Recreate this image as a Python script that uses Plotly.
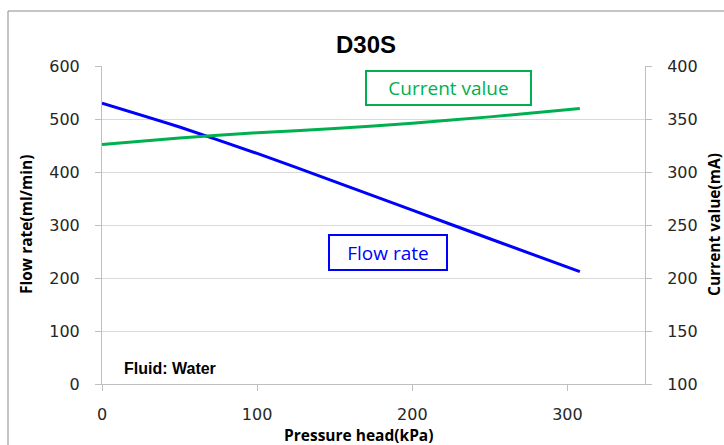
import plotly.graph_objects as go

# Data
pressure_kpa = [0, 50, 100, 150, 200, 250, 308]
flow_rate = [530, 485, 435, 382, 328, 274, 212]          # ml/min, left axis
current_ma = [326, 332, 337, 341, 346, 352, 360]         # mA, right axis

x_ticks = [0, 100, 200, 300]
y_ticks = [0, 100, 200, 300, 400, 500, 600]
y2_ticks = [100, 150, 200, 250, 300, 350, 400]

GREEN = "#00B050"
BLUE = "#0000FF"
GRID = "#d9d9d9"
AXIS = "#bfbfbf"
TICKFONT = dict(family="DejaVu Sans, sans-serif", size=16, color="#262626")
TITLEFONT = dict(family="Open Sans, Noto Sans, sans-serif", size=15.5, color="#000000", weight="bold")

fig = go.Figure()
fig.add_trace(go.Scatter(x=pressure_kpa, y=flow_rate, mode="lines",
                         line=dict(color=BLUE, width=3, shape="spline", smoothing=0.5),
                         name="Flow rate", yaxis="y"))
fig.add_trace(go.Scatter(x=pressure_kpa, y=current_ma, mode="lines",
                         line=dict(color=GREEN, width=3, shape="spline", smoothing=0.5),
                         name="Current value", yaxis="y2"))

W, H = 724, 445
# page pixels of plot area: x 102..645, y 66..384
PX0, PX1, PY0, PY1 = 102, 645, 66, 384
L, T, R, B = PX0, PY0, W - PX1, H - PY1
pw, ph = PX1 - PX0, PY1 - PY0

def px(xp):
    return (xp - PX0) / pw

def py(yp):
    return (PY1 - yp) / ph

fig.update_layout(
    width=W, height=H,
    margin=dict(l=L, r=R, t=T, b=B, pad=0),
    paper_bgcolor="white", plot_bgcolor="white",
    showlegend=False,
    xaxis=dict(range=[0, 350], tickvals=x_ticks, showgrid=False, zeroline=False,
               showline=True, linecolor=AXIS, linewidth=1,
               ticks="outside", ticklen=6, tickcolor=AXIS, tickfont=TICKFONT,
               ticklabelstandoff=10),
    yaxis=dict(range=[0, 600], tickvals=y_ticks, showgrid=True, gridcolor=GRID, gridwidth=1,
               zeroline=False, showline=True, linecolor=AXIS, linewidth=1,
               ticks="outside", ticklen=6, tickcolor=AXIS, tickfont=TICKFONT,
               ticklabelstandoff=12),
    yaxis2=dict(range=[100, 400], tickvals=y2_ticks, overlaying="y", side="right",
                showgrid=False, zeroline=False, showline=True, linecolor=AXIS, linewidth=1,
                ticks="outside", ticklen=6, tickcolor=AXIS, tickfont=TICKFONT,
                ticklabelstandoff=12),
)

# outer chart border
fig.add_shape(type="rect", xref="paper", yref="paper",
              x0=px(8), x1=px(760), y0=py(480), y1=py(11),
              line=dict(color="#8c8c8c", width=1), fillcolor="rgba(0,0,0,0)", layer="below")

annos = [
    dict(text="D30S", x=px(366), y=py(45),
         font=dict(family="Liberation Sans, Arial, sans-serif", size=24, color="#000", weight="bold")),
    dict(text="Flow rate(ml/min)", x=px(26), y=0.5, textangle=-90, font=TITLEFONT),
    dict(text="Current value(mA)", x=px(714), y=0.5, textangle=-90, font=TITLEFONT),
    dict(text="Pressure head(kPa)", x=px(358), y=py(435), font=TITLEFONT),
    dict(text="Fluid: Water", x=px(122), y=py(368), xanchor="left",
         font=dict(family="Liberation Sans, Arial, sans-serif",
                   size=16, color="#000", weight="bold")),
    dict(text="Current value", x=px(448.5), y=py(88), width=163, height=32,
         bordercolor=GREEN, borderwidth=2, borderpad=0, bgcolor="white",
         font=dict(family="Open Sans, Noto Sans, sans-serif", size=19, color=GREEN)),
    dict(text="Flow rate", x=px(388), y=py(252.5), width=116, height=33,
         bordercolor=BLUE, borderwidth=2, borderpad=0, bgcolor="white",
         font=dict(family="Open Sans, Noto Sans, sans-serif", size=19, color=BLUE)),
]
for a in annos:
    a.setdefault("xref", "paper")
    a.setdefault("yref", "paper")
    a.setdefault("showarrow", False)
    a.setdefault("xanchor", "center")
    a.setdefault("yanchor", "middle")
    fig.add_annotation(**a)

fig.write_html(
    "out.html",
    config={"displayModeBar": False},
    post_script="document.body.style.margin='0';document.body.style.overflow='hidden';",
)
